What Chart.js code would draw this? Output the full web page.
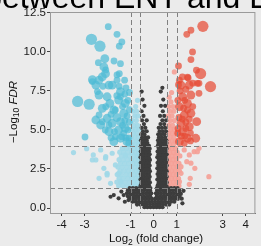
<!DOCTYPE html>
<html>
<head>
<meta charset="utf-8">
<script src="https://cdn.jsdelivr.net/npm/chart.js@4.4.1/dist/chart.umd.min.js"></script>
<style>
  html, body { margin: 0; padding: 0; background: #ebebeb; }
  #wrap { width: 261px; height: 246px; }
</style>
</head>
<body>
<div id="wrap"><canvas id="volcano" width="261" height="246"></canvas></div>
<script>
// axis ticks and cut-off lines
const xTicks = [-4, -3, -1, 0, 1, 3, 4];
const yTicks = [0, 2.5, 5, 7.5, 10, 12.5];
const fcCuts = [-1, -0.58, 0.58, 1];
const fdrCuts = [1.3, 4];

// significant down genes: [log2FC, -log10 FDR, size class]
const downSig = [
  [-1.97, 11.62, 1], [-1.59, 11.13, 1], [-2.70, 10.81, 3], [-2.33, 10.37, 3], [-1.38, 10.64, 1],
  [-1.49, 10.37, 1], [-2.12, 9.57, 2], [-2.40, 9.31, 1], [-1.72, 9.42, 1], [-1.44, 9.25, 1],
  [-2.16, 9.04, 2], [-2.09, 8.61, 2], [-1.49, 8.61, 1], [-2.66, 8.22, 2], [-2.23, 8.40, 2],
  [-1.26, 8.19, 1], [-1.59, 8.19, 1], [-2.08, 8.85, 1], [-1.94, 7.88, 2], [-1.59, 8.53, 1],
  [-2.37, 8.20, 2], [-2.51, 7.88, 2], [-1.80, 7.88, 2], [-2.44, 7.46, 1], [-2.37, 7.24, 2],
  [-2.02, 7.13, 2], [-1.44, 7.46, 2], [-1.52, 6.92, 2], [-1.23, 6.71, 2], [-3.30, 6.83, 3],
  [-2.80, 6.65, 3], [-2.23, 6.39, 2], [-2.08, 6.49, 1], [-1.73, 6.28, 2], [-1.30, 6.07, 2],
  [-1.44, 7.13, 1], [-2.37, 5.96, 1], [-2.51, 5.64, 2], [-2.02, 5.75, 2], [-2.30, 5.32, 2],
  [-1.80, 5.43, 2], [-1.44, 5.53, 2], [-2.23, 5.53, 1], [-1.94, 5.32, 1], [-1.66, 6.28, 1],
  [-1.94, 4.89, 2], [-1.52, 5.00, 2], [-1.23, 5.11, 2], [-1.44, 4.47, 2], [-1.73, 4.25, 2],
  [-1.16, 4.25, 2], [-2.98, 4.55, 1], [-1.66, 4.57, 1], [-1.38, 4.57, 1], [-2.66, 8.10, 1],
  [-1.08, 4.50, 1], [-1.12, 5.00, 1], [-1.06, 5.50, 1], [-1.15, 5.90, 1], [-1.05, 6.30, 1],
  [-1.12, 6.90, 1], [-1.05, 7.40, 1], [-1.20, 7.70, 1], [-1.08, 4.15, 1], [-1.25, 5.60, 1],
  [-1.30, 4.80, 1], [-1.35, 5.30, 1], [-1.60, 5.80, 2], [-1.85, 6.00, 1], [-1.35, 6.50, 1],
  [-1.60, 7.20, 1], [-1.90, 6.70, 2], [-1.70, 4.90, 1], [-1.20, 4.50, 1], [-2.10, 5.00, 1],
  [-1.85, 4.50, 1], [-1.50, 7.80, 1], [-1.25, 7.30, 1], [-2.20, 7.80, 1]
];

// significant up genes
const upSig = [
  [2.14, 11.64, 3], [1.62, 11.39, 1], [1.44, 11.13, 1], [1.69, 10.00, 1], [1.62, 9.51, 1],
  [1.08, 9.10, 1], [1.86, 8.83, 1], [2.04, 8.61, 3], [1.50, 8.33, 1], [1.12, 8.19, 1],
  [2.47, 7.78, 3], [1.97, 7.99, 1], [1.55, 7.88, 2], [1.19, 7.88, 2], [1.62, 7.24, 2],
  [1.26, 7.13, 2], [1.12, 6.49, 2], [1.47, 6.71, 2], [1.62, 6.07, 2], [1.33, 5.96, 2],
  [1.87, 5.53, 2], [1.19, 5.43, 2], [1.55, 5.21, 2], [1.26, 4.89, 2], [1.83, 4.47, 2],
  [1.47, 4.47, 2], [1.12, 4.25, 2], [1.33, 4.15, 1], [1.05, 4.79, 1], [1.47, 6.28, 1],
  [1.97, 7.35, 1], [1.90, 7.99, 1], [1.47, 8.38, 1], [1.06, 5.10, 1], [1.10, 5.80, 1],
  [1.05, 6.90, 1], [1.15, 7.50, 1], [1.30, 6.40, 1], [1.40, 5.50, 1], [1.20, 4.60, 1],
  [1.08, 7.90, 1], [1.35, 4.60, 1], [1.60, 4.80, 1], [1.40, 5.10, 1], [1.25, 5.70, 1],
  [1.55, 5.70, 1], [1.70, 6.50, 1], [1.35, 6.90, 1], [1.40, 7.60, 1], [1.70, 8.00, 1],
  [1.25, 8.40, 1], [1.60, 4.30, 1]
];

// weak down genes (rows: -log10 FDR, log2FC values) and scattered ones
const downWeakRows = [
  [1.42, [-1.52, -1.33, -1.14, -0.95, -0.78, -0.64]],
  [1.66, [-1.60, -1.42, -1.24, -1.05, -0.87, -0.70]],
  [1.90, [-1.50, -1.32, -1.13, -0.94, -0.76, -0.63]],
  [2.14, [-1.58, -1.40, -1.20, -1.02, -0.84, -0.68]],
  [2.38, [-1.46, -1.28, -1.10, -0.92, -0.75, -0.62]],
  [2.62, [-1.55, -1.36, -1.17, -0.98, -0.80, -0.66]],
  [2.86, [-1.44, -1.26, -1.08, -0.90, -0.74, -0.62]],
  [3.10, [-1.50, -1.32, -1.14, -0.96, -0.79, -0.66]],
  [3.34, [-1.40, -1.22, -1.04, -0.87, -0.72, -0.62]],
  [3.58, [-1.47, -1.30, -1.12, -0.94, -0.78, -0.65]],
  [3.82, [-1.36, -1.18, -1.00, -0.84, -0.70]],
  [4.06, [-0.95, -0.80, -0.66]],
  [4.30, [-0.90, -0.74, -0.63]],
  [4.55, [-0.96, -0.80, -0.66]],
  [4.80, [-0.88, -0.72]],
  [5.05, [-0.94, -0.78, -0.64]],
  [5.30, [-0.85, -0.70]],
  [5.60, [-0.92, -0.75]],
  [5.90, [-0.82, -0.67]],
  [6.20, [-0.90, -0.74]],
  [6.50, [-0.78]],
  [6.90, [-0.70]]
];
const downWeakScatter = [
  [-3.48, 3.55], [-2.91, 3.80], [-2.62, 3.40], [-2.51, 3.08], [-2.30, 3.72], [-2.08, 3.29],
  [-2.02, 2.22], [-2.66, 3.08], [-2.37, 1.90], [-2.16, 2.54], [-2.02, 2.12], [-1.87, 1.58],
  [-2.09, 3.19], [-1.80, 3.51], [-1.66, 2.76], [-1.52, 2.22], [-1.44, 1.69], [-1.23, 3.40]
];

// weak up genes
const upWeakRows = [
  [1.42, [0.64, 0.80, 0.96, 1.10]],
  [1.66, [0.70, 0.86, 1.02]],
  [1.90, [0.62, 0.78, 0.94, 1.08]],
  [2.14, [0.68, 0.84, 1.00]],
  [2.38, [0.63, 0.79, 0.95, 1.12]],
  [2.62, [0.70, 0.86, 1.02]],
  [2.86, [0.62, 0.78, 0.94, 1.10]],
  [3.10, [0.68, 0.84, 1.00]],
  [3.34, [0.63, 0.80, 0.96, 1.14]],
  [3.58, [0.70, 0.86, 1.02]],
  [3.82, [0.64, 0.80, 0.96]],
  [4.06, [0.70, 0.86]],
  [4.30, [0.64, 0.80, 0.95]],
  [4.55, [0.72, 0.88]],
  [4.80, [0.66, 0.82, 0.96]],
  [5.05, [0.74, 0.90]],
  [5.30, [0.66, 0.82]],
  [5.60, [0.72, 0.90]],
  [5.90, [0.64, 0.80]],
  [6.20, [0.72, 0.88]],
  [6.50, [0.66, 0.84]],
  [6.80, [0.75]],
  [7.10, [0.68]],
  [7.40, [0.78]]
];
const upWeakScatter = [
  [1.33, 3.72], [1.55, 3.40], [1.76, 3.61], [1.90, 3.61], [1.44, 2.97], [1.62, 2.87],
  [1.19, 2.65], [1.79, 2.54], [1.19, 2.22], [1.59, 1.90], [2.40, 2.01], [1.55, 1.52],
  [1.12, 1.69], [1.97, 3.83], [0.90, 8.72]
];

// not significant genes
const nsRows = [
  [0.05, [-0.40, -0.27, -0.14, 0.00, 0.13, 0.26, 0.39]],
  [0.22, [-0.72, -0.58, -0.44, -0.30, -0.16, -0.02, 0.12, 0.26, 0.40, 0.54, 0.68]],
  [0.40, [-0.92, -0.78, -0.64, -0.50, -0.36, -0.22, -0.08, 0.06, 0.20, 0.34, 0.48, 0.62, 0.76, 0.90]],
  [0.58, [-1.05, -0.91, -0.77, -0.63, -0.49, -0.35, -0.21, -0.07, 0.07, 0.21, 0.35, 0.49, 0.63, 0.77, 0.91, 1.05]],
  [0.76, [-1.12, -0.98, -0.84, -0.70, -0.56, -0.42, -0.28, -0.15, 0.14, 0.28, 0.42, 0.56, 0.70, 0.84, 0.98, 1.12]],
  [0.94, [-1.16, -1.02, -0.88, -0.74, -0.60, -0.46, -0.32, -0.18, -0.10, 0.10, 0.18, 0.32, 0.46, 0.60, 0.74, 0.88, 1.02, 1.16]],
  [1.12, [-1.12, -0.98, -0.84, -0.70, -0.56, -0.42, -0.28, -0.15, 0.15, 0.28, 0.42, 0.56, 0.70, 0.84, 0.98, 1.12]],
  [1.28, [-1.04, -0.90, -0.76, -0.62, -0.50, -0.38, -0.26, -0.14, 0.14, 0.26, 0.38, 0.50, 0.62, 0.76, 0.90, 1.04]],
  [1.46, [-0.56, -0.44, -0.32, -0.20, 0.18, 0.30, 0.42, 0.55]],
  [1.64, [-0.52, -0.40, -0.28, -0.16, 0.22, 0.34, 0.46, 0.57]],
  [1.82, [-0.57, -0.45, -0.33, -0.21, 0.16, 0.28, 0.40, 0.53]],
  [2.00, [-0.53, -0.41, -0.29, -0.17, 0.21, 0.33, 0.45, 0.57]],
  [2.18, [-0.56, -0.44, -0.32, -0.20, 0.17, 0.29, 0.41, 0.54]],
  [2.36, [-0.52, -0.40, -0.28, -0.16, 0.22, 0.34, 0.46, 0.57]],
  [2.54, [-0.57, -0.45, -0.33, -0.21, 0.16, 0.28, 0.40, 0.53]],
  [2.72, [-0.53, -0.41, -0.29, -0.17, 0.21, 0.33, 0.45, 0.57]],
  [2.90, [-0.56, -0.44, -0.32, -0.20, 0.17, 0.29, 0.41, 0.54]],
  [3.08, [-0.52, -0.40, -0.28, -0.16, 0.22, 0.34, 0.46, 0.57]],
  [3.26, [-0.57, -0.45, -0.33, -0.21, 0.16, 0.28, 0.40, 0.53]],
  [3.44, [-0.53, -0.41, -0.29, -0.17, 0.21, 0.33, 0.45, 0.57]],
  [3.62, [-0.56, -0.44, -0.32, -0.20, 0.17, 0.29, 0.41, 0.54]],
  [3.80, [-0.52, -0.40, -0.28, -0.17, 0.22, 0.34, 0.46, 0.56]],
  [3.98, [-0.55, -0.43, -0.31, -0.20, 0.18, 0.30, 0.42, 0.54]],
  [4.16, [-0.51, -0.39, -0.27, 0.21, 0.33, 0.45, 0.56]],
  [4.34, [-0.55, -0.42, -0.30, 0.19, 0.31, 0.43, 0.55]],
  [4.52, [-0.50, -0.36, -0.24, 0.23, 0.36, 0.50]],
  [4.72, [-0.54, -0.40, 0.20, 0.33, 0.47]],
  [4.92, [-0.46, -0.30, 0.26, 0.40, 0.54]],
  [5.14, [-0.52, -0.36, 0.22, 0.36, 0.50]],
  [5.38, [-0.42, 0.30, 0.46]],
  [5.62, [-0.50, -0.30, 0.38, 0.54]],
  [5.90, [-0.44, 0.28, 0.46]],
  [6.20, [-0.52, 0.40]],
  [6.55, [-0.40, 0.32, 0.50]],
  [6.95, [-0.48, 0.42]],
  [7.46, [-0.52, 0.31]],
  [7.70, [0.38]]
];
const nsScatter = [
  [-1.87, 0.72], [-1.73, 0.83], [-1.52, 0.62], [-1.30, 0.83], [-1.09, 0.51], [-1.40, 1.05],
  [-1.25, 0.40], [1.22, 0.60], [1.18, 0.90], [1.25, 0.30], [1.30, 1.10]
];

const fromPairs = arr => arr.map(p => ({ x: p[0], y: p[1], s: p[2] || 1 }));
const fromRows = rows => rows.flatMap(r => r[1].map(x => ({ x: x, y: r[0] })));

const sizeR = { 1: 3.4, 2: 4.4, 3: 5.6 };
const FONT = '"Liberation Sans", Arial, sans-serif';

// draws text made of pieces (for subscripts / italics)
function drawParts(ctx, parts, cx, cy) {
  let total = 0;
  parts.forEach(p => { ctx.font = p.font; p.w = ctx.measureText(p.t).width; total += p.w; });
  let x = cx - total / 2;
  parts.forEach(p => {
    ctx.font = p.font;
    ctx.fillText(p.t, x, cy + (p.dy || 0));
    x += p.w;
  });
}

const decor = {
  id: 'decor',
  beforeDraw(chart) {
    const ctx = chart.ctx;
    ctx.save();
    ctx.fillStyle = '#ebebeb';
    ctx.fillRect(0, 0, chart.width, chart.height);
    ctx.restore();
  },
  afterDatasetsDraw(chart) {
    const ctx = chart.ctx;
    const a = chart.chartArea;
    const xs = chart.scales.x, ys = chart.scales.y;
    ctx.save();
    ctx.strokeStyle = '#808080';
    ctx.lineWidth = 1;
    ctx.setLineDash([5, 3]);
    fcCuts.forEach(v => {
      const px = Math.round(xs.getPixelForValue(v)) + 0.5;
      ctx.beginPath(); ctx.moveTo(px, a.top); ctx.lineTo(px, a.bottom); ctx.stroke();
    });
    fdrCuts.forEach(v => {
      const py = Math.round(ys.getPixelForValue(v)) + 0.5;
      ctx.beginPath(); ctx.moveTo(a.left, py); ctx.lineTo(a.right, py); ctx.stroke();
    });
    ctx.setLineDash([]);
    // panel frame
    ctx.strokeStyle = '#9a9a9a';
    ctx.strokeRect(a.left + 0.5, a.top + 0.5, a.right - a.left - 1, a.bottom - a.top);
    ctx.restore();
  },
  afterDraw(chart) {
    const ctx = chart.ctx;
    ctx.save();
    ctx.fillStyle = '#000';
    // big title, cut off by the top edge
    ctx.font = '32px ' + FONT;
    ctx.textBaseline = 'alphabetic';
    const lead = ctx.measureText('between ').width;
    ctx.fillText('between ENT and L', 114 - lead, 8);

    ctx.fillStyle = '#111';
    // x axis title
    drawParts(ctx, [
      { t: 'Log', font: '11.5px ' + FONT },
      { t: '2', font: '8.5px ' + FONT, dy: 3 },
      { t: ' (fold change)', font: '11.5px ' + FONT }
    ], 156, 242);
    // y axis title
    ctx.translate(14, 112);
    ctx.rotate(-Math.PI / 2);
    ctx.textBaseline = 'middle';
    drawParts(ctx, [
      { t: '\u2212Log', font: '11.5px ' + FONT },
      { t: '10', font: '8.5px ' + FONT, dy: 3 },
      { t: ' FDR', font: 'italic 11.5px ' + FONT }
    ], 0, 0);
    ctx.restore();
  }
};

const ctx = document.getElementById('volcano').getContext('2d');
new Chart(ctx, {
  type: 'scatter',
  data: {
    datasets: [
      {
        label: 'Up', data: fromPairs(upSig), order: 0,
        backgroundColor: 'rgba(230, 75, 53, 0.72)', borderWidth: 0,
        pointRadius: c => sizeR[c.raw.s]
      },
      {
        label: 'Down', data: fromPairs(downSig), order: 0,
        backgroundColor: 'rgba(77, 187, 213, 0.72)', borderWidth: 0,
        pointRadius: c => sizeR[c.raw.s]
      },
      {
        label: 'NS', data: fromRows(nsRows).concat(fromPairs(nsScatter)), order: 1,
        backgroundColor: '#3d3d3d', borderWidth: 0, pointRadius: 2.1
      },
      {
        label: 'Up weak', data: fromRows(upWeakRows).concat(fromPairs(upWeakScatter)), order: 2,
        backgroundColor: 'rgba(245, 160, 150, 0.9)', borderWidth: 0, pointRadius: 2.6
      },
      {
        label: 'Down weak', data: fromRows(downWeakRows).concat(fromPairs(downWeakScatter)), order: 2,
        backgroundColor: 'rgba(160, 216, 232, 0.9)', borderWidth: 0, pointRadius: 2.6
      }
    ]
  },
  options: {
    responsive: false,
    animation: false,
    events: [],
    layout: { padding: { top: 12, right: 2, left: 0, bottom: 0 } },
    plugins: { legend: { display: false }, tooltip: { enabled: false } },
    scales: {
      x: {
        type: 'linear', min: -4.5, max: 4.42,
        afterFit: s => { s.height = 33; },
        afterBuildTicks: s => { s.ticks = xTicks.map(v => ({ value: v })); },
        grid: { drawOnChartArea: false, tickLength: 3, color: '#444' },
        border: { color: '#666' },
        ticks: {
          color: '#1a1a1a', padding: 2, maxRotation: 0, autoSkip: false,
          font: { family: FONT, size: 11.5 },
          callback: v => String(v)
        }
      },
      y: {
        type: 'linear', min: -0.32, max: 12.56,
        afterFit: s => { s.width = 50; },
        afterBuildTicks: s => { s.ticks = yTicks.map(v => ({ value: v })); },
        grid: { drawOnChartArea: false, tickLength: 3, color: '#444' },
        border: { color: '#666' },
        ticks: {
          color: '#1a1a1a', padding: 1, autoSkip: false,
          font: { family: FONT, size: 11.5 },
          callback: v => v.toFixed(1)
        }
      }
    }
  },
  plugins: [decor]
});
</script>
</body>
</html>
